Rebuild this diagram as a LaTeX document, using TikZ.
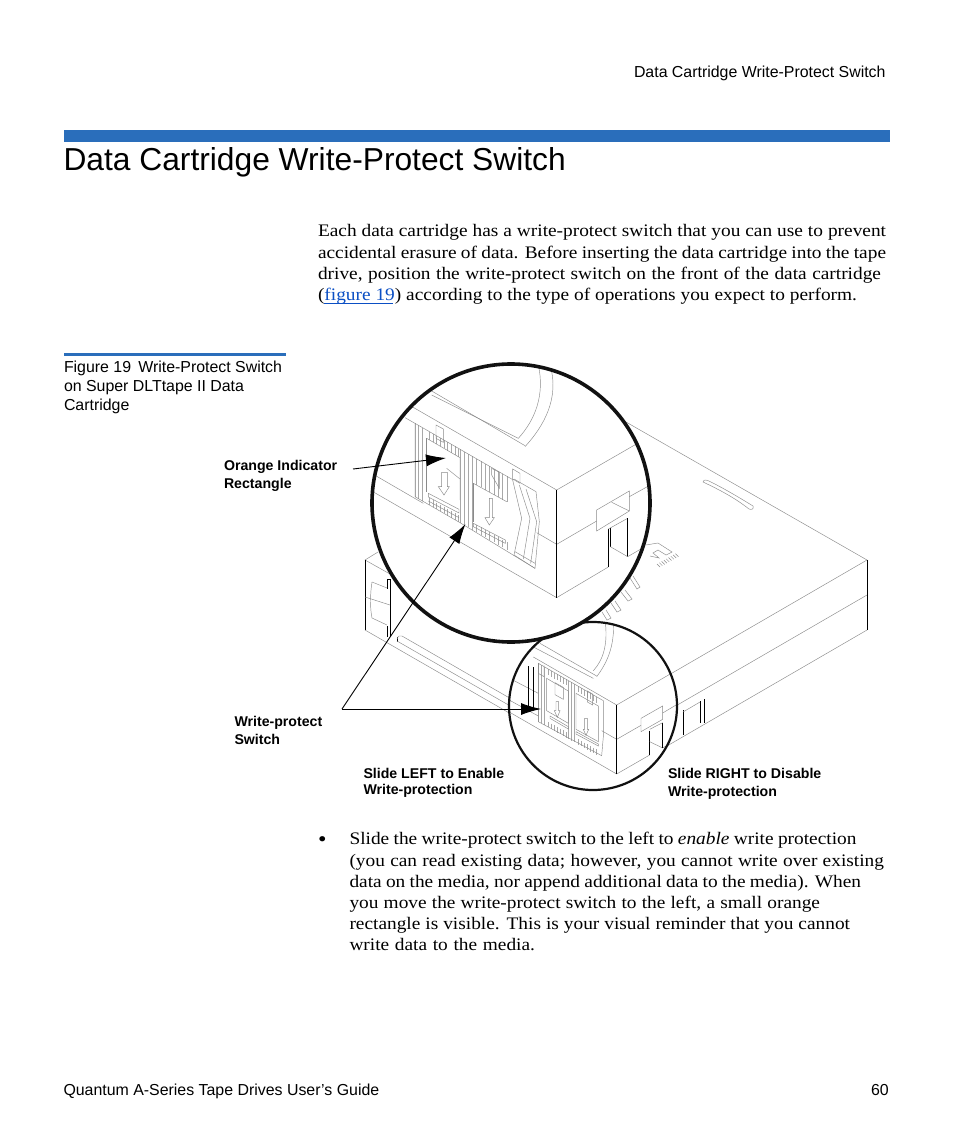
\documentclass[tikz,border=0pt]{standalone}
\usepackage{fontspec}
\usetikzlibrary{arrows.meta}
\setmainfont{Liberation Sans}
\newfontfamily\bodyfont[FakeStretch=1.1]{Liberation Serif}
\newcommand{\fitline}[2]{\makebox[#1pt][s]{#2}}
\definecolor{barblue}{HTML}{2A6EBB}
\definecolor{linkblue}{HTML}{0B4FC4}
\definecolor{cgray}{HTML}{8A8A8A}
\definecolor{hgray}{HTML}{A8A8A8}
\definecolor{ringblack}{HTML}{111111}
\tikzset{
  txt/.style={anchor=base west,inner sep=0pt,outer sep=0pt},
  bodytxt/.style={txt,font=\bodyfont\fontsize{17.6}{20}\selectfont},
  captxt/.style={txt,font=\fontsize{15.9}{18}\selectfont},
  lbl/.style={txt,font=\bfseries\fontsize{14.15}{16}\selectfont},
  gl/.style={draw=cgray,line width=.45pt},
  bl/.style={draw=black,line width=.8pt},
  blt/.style={draw=black,line width=1.2pt},
  hatch/.style={draw=hgray,line width=.4pt},
  pointer/.style={draw=black,line width=.9pt,-{Latex[length=20pt,width=12pt]}},
  bigmap/.style={shift={(360,355)},x=.33333pt,y=-.33333pt},
  smallmap/.style={shift={(500,610)},x=.33333pt,y=-.33333pt},
}
\begin{document}
\begin{tikzpicture}[x=1pt,y=-1pt]
\fill[white] (0,0) rectangle (954,1145);
\useasboundingbox (0,0) rectangle (954,1145);
% page furniture
\node[captxt] (head) at (634,78) {Data Cartridge Write-Protect Switch};
\fill[barblue] (64,130) rectangle (890,142);
\node[txt,font=\fontsize{31.75}{36}\selectfont] (title) at (63.5,170.5) {Data Cartridge Write-Protect Switch};
\node[bodytxt] (b1) at (318,236) {\fitline{568}{Each data cartridge has a write-protect switch that you can use to prevent}};
\node[bodytxt] (b2) at (318,258) {\fitline{568}{accidental erasure of data. Before inserting the data cartridge into the tape}};
\node[bodytxt] (b3) at (318,279) {\fitline{563}{drive, position the write-protect switch on the front of the data cartridge}};
\node[bodytxt] (b4) at (318,300) {\fitline{539}{(\textcolor{linkblue}{figure 19}) according to the type of operations you expect to perform.}};
\draw[linkblue,line width=.7pt] (324,303) -- (393,303);
\fill[barblue] (64,353) rectangle (286,356);
\node[captxt] (c1) at (64,372) {Figure 19\hspace{.45em}Write-Protect Switch};
\node[captxt] (c2) at (64,391) {on Super DLTtape II Data};
\node[captxt] (c3) at (64,410) {Cartridge};
% cartridge
\draw[gl] (626,422) -- (867,560);
\draw[gl] (867,560) -- (617,705);
\draw[gl] (867,595) -- (617,740);
\draw[gl] (867,630) -- (617,775);
\draw[bl] (867,560) -- (867,630);
\draw[gl] (703,482) .. controls (704,479) and (706,480) .. (709,481) .. controls (725,489) and (740,498) .. (753,506) .. controls (754,509) and (752,510) .. (749,509) .. controls (735,498) and (720,490) .. (703,482) -- cycle;
\draw[gl] (646,545) -- (658,543) -- (672,552) -- (666,555) -- (658,550) -- (653,553) -- (659,558) -- (650,556);
\foreach \i in {0,...,8}{\draw[gl] ({657+\i*2.3},{564-\i*1.3}) -- ({660+\i*2.3},{567-\i*1.3});}
\draw[gl] (630,578) -- (637,589) -- (640,587) -- (633,576);
\draw[gl] (621,592) -- (628,601) -- (632,599) -- (625,590);
\draw[gl] (611,603) -- (617,612) -- (621,610) -- (615,601);
\draw[gl] (602,612) -- (607,620) -- (611,618) -- (606,610);
% left end
\draw[gl] (365,560) -- (378,552);
\draw[gl] (365,560) -- (390,574);
\draw[bl] (365,560) -- (365,630);
\draw[gl] (365,630) -- (617,775);
\draw[bl] (390,579) -- (390,637);
\draw[bl] (387,579) -- (387,589);
\draw[bl] (387,626) -- (387,637);
\draw[bl] (387,579) -- (390,579);
\draw[bl] (397,637) -- (397,642);
\draw[gl] (372,582) -- (387,588);
\draw[gl] (372,582) .. controls (370,595) and (370,608) .. (372,618) -- (387,625);
\draw[gl] (365,597) -- (390,605);
\draw[gl] (397,641) -- (512,707);
\draw[gl] (397,639) .. controls (398,636) and (400,635) .. (402,636) -- (513,700);
% right notch
\draw[bl] (683,710) -- (683,735);
\draw[bl] (700,701) -- (700,723);
\draw[bl] (704,699) -- (704,723);
\draw[gl] (683,712) -- (700,702);
% small circle
\fill[white] (593,706) circle (84);
\begin{scope}
\clip (593,706) circle (84);
\begin{scope}[smallmap]
\draw[gl] (350,285) -- (100,141);
\draw[gl] (120,100) -- (290,198);
\draw[gl] (60,90) -- (280,205);
\draw[gl] (290,200) .. controls (320,160) and (345,110) .. (340,30);
\draw[gl] (280,182) .. controls (310,150) and (325,100) .. (315,30);
\draw[gl] (350,285) -- (540,175);
\draw[gl] (350,388) -- (423,346);
\draw[gl] (488,309) -- (540,278);
\draw[gl] (350,492) -- (449,435);
\draw[gl] (488,414) -- (540,382);
\draw[gl] (350,388) -- (305,362);
\draw[gl] (115,250) -- (0,190);
\draw[gl] (350,492) -- (0,290);
\draw[gl] (115,318) -- (0,255);
\draw[bl] (350,285) -- (350,492);
\draw[blt] (85,168) -- (85,296);
\draw[bl] (100,172) -- (100,296);
\foreach \x in {115,124,133,205,214,223}{\draw[hatch] (\x,{160+.577*(\x-115)}) -- (\x,{335+.577*(\x-115)});}
\foreach \x in {145,154,...,200,235,244,...,295}{
  \draw[hatch] (\x,{160+.577*(\x-115)}) -- (\x,{178+.577*(\x-115)});
  \draw[hatch] (\x,{318+.577*(\x-115)}) -- (\x,{335+.577*(\x-115)});
}
\draw[gl] (115,160) -- (310,272) -- (310,380) -- (305,437) -- (115,335) -- cycle;
\draw[gl] (140,205) -- (205,243) -- (205,340) -- (140,302) -- cycle;
\draw[gl] (228,250) -- (295,288) -- (295,395) -- (228,358) -- cycle;
\draw[gl] (165,218) -- (190,232) -- (190,268) -- (165,254) -- cycle;
\draw[gl] (150,318) -- (205,350) -- (205,357) -- (150,325) -- cycle;
\draw[gl] (228,365) -- (295,402) -- (295,408) -- (228,372) -- cycle;
\draw[gl] (168,275) -- (176,275) -- (176,302) -- (180,302) -- (172,322) -- (163,302) -- (168,302) -- cycle;
\draw[gl] (254,325) -- (262,325) -- (262,358) -- (266,358) -- (258,376) -- (250,358) -- (254,358) -- cycle;
\draw[gl] (262,243) -- (278,252) -- (278,285) -- (262,276) -- cycle;
\draw[gl] (115,160) -- (115,190) -- (132,200) -- (132,165);
\draw[gl] (423,325) -- (488,288) -- (488,328) -- (423,365) -- cycle;
\draw[blt] (449,362) -- (449,435);
\draw[gl] (449,395) -- (488,414);
\draw[bl] (488,340) -- (488,414);
\draw[gl] (449,358) -- (488,338);
\end{scope}
\end{scope}
\draw[ringblack,line width=2.2pt] (593,706) circle (84);
% big circle
\fill[white] (511,503) circle (139);
\begin{scope}
\clip (511,503) circle (139);
\begin{scope}[bigmap]
\draw[gl] (590,405) -- (130,140);
\draw[gl] (210,105) -- (495,272);
\draw[gl] (215,120) -- (475,250);
\draw[gl] (475,250) .. controls (525,195) and (555,120) .. (535,30);
\draw[gl] (495,275) .. controls (550,215) and (600,130) .. (570,30);
\draw[gl] (590,405) -- (850,255);
\draw[gl] (590,568) -- (710,498);
\draw[gl] (808,425) -- (880,385);
\draw[gl] (590,728) -- (745,636);
\draw[gl] (590,568) -- (530,533);
\draw[gl] (190,445) -- (40,358);
\draw[gl] (590,728) -- (30,405);
\draw[bl] (590,405) -- (590,728);
\draw[gl] (710,465) -- (808,408) -- (808,468) -- (710,528) -- cycle;
\draw[gl] (755,442) -- (808,468);
\draw[bl] (745,522) -- (745,636);
\draw[bl] (751,518) -- (751,575);
\draw[gl] (745,522) -- (803,490);
\draw[bl] (803,490) -- (803,605);
\draw[gl] (751,575) -- (803,605) -- (860,572);
% hatch
\foreach \x in {165,176,187,300,312,324,336}{\draw[hatch] (\x,{205+.577*(\x-165)}) -- (\x,{425+.577*(\x-165)});}
\foreach \x in {208,219,...,297}{
  \draw[hatch] (\x,{205+.577*(\x-165)}) -- (\x,{230+.577*(\x-165)});
  \draw[hatch] (\x,{405+.577*(\x-165)}) -- (\x,{425+.577*(\x-165)});
}
\foreach \x in {350,363,...,452}{
  \draw[hatch] (\x,{205+.577*(\x-165)}) -- (\x,{283+.577*(\x-165)});
  \draw[hatch] (\x,{403+.577*(\x-165)}) -- (\x,{425+.577*(\x-165)});
}
\draw[gl] (135,188) -- (165,205) -- (460,375);
\draw[gl] (165,205) -- (165,425) -- (300,503) -- (525,640);
\draw[gl] (200,250) -- (300,308) -- (300,435);
\draw[gl] (200,250) -- (200,410);
\draw[gl] (340,385) -- (440,440);
\draw[gl] (340,385) -- (340,500);
\draw[gl] (260,340) -- (300,372);
\draw[gl] (205,415) -- (297,463) -- (297,474) -- (205,426) -- cycle;
\draw[gl] (205,438) -- (297,488);
\draw[gl] (340,505) -- (436,555) -- (436,565) -- (340,515) -- cycle;
\draw[gl] (245,352) -- (262,352) -- (262,395) -- (268,395) -- (252,420) -- (235,395) -- (245,395) -- cycle;
\draw[gl] (388,430) -- (397,430) -- (397,488) -- (403,488) -- (388,510) -- (375,488) -- (388,488) -- cycle;
\draw[gl] (228,210) -- (250,222) -- (250,262) -- (228,250) -- cycle;
\draw[gl] (395,340) -- (418,352) -- (418,400) -- (395,360) -- cycle;
\draw[gl] (458,342) -- (480,355) -- (480,385) -- (458,372) -- cycle;
% chevron end
\draw[gl] (458,375) -- (485,490) -- (462,600);
\draw[gl] (478,390) -- (510,490) -- (490,612);
\draw[gl] (498,402) -- (530,500) -- (512,625);
\draw[gl] (528,410) -- (538,500) -- (525,640);
\draw[gl] (462,372) -- (528,410);
\draw[gl] (465,590) -- (525,625);
\draw[gl] (462,600) -- (525,640);
\end{scope}
\end{scope}
\draw[ringblack,line width=3.6pt] (511,503) circle (139);
% labels
\node[lbl] (orange1) at (224,470.5) {Orange Indicator};
\node[lbl] (orange2) at (224,488) {Rectangle};
\node[lbl] (wp1) at (234.5,726) {Write-protect};
\node[lbl] (wp2) at (234.5,744) {Switch};
\node[lbl] (left1) at (363.5,778) {Slide LEFT to Enable};
\node[lbl] (left2) at (363.5,794) {Write-protection};
\node[lbl] (right1) at (668,778) {Slide RIGHT to Disable};
\node[lbl] (right2) at (668,796) {Write-protection};
% pointers
\coordinate (orangefrom) at (353,469);
\coordinate (orangetip) at (446,458);
\coordinate (wpjoin) at (342,709);
\coordinate (wptipa) at (465.5,524);
\coordinate (wptipb) at (541,709);
\draw[pointer] (orangefrom) -- (orangetip);
\draw[pointer] (wpjoin) -- (wptipa);
\draw[pointer] (wpjoin) -- (wptipb);
% lower text
\node[bodytxt,font=\bodyfont\fontsize{22}{22}\selectfont] (bullet) at (318,846) {•};
\node[bodytxt] (d1) at (349.5,844) {\fitline{507}{Slide the write-protect switch to the left to \textit{enable} write protection}};
\node[bodytxt] (d2) at (349.5,866) {\fitline{534.5}{(you can read existing data; however, you cannot write over existing}};
\node[bodytxt] (d3) at (349.5,887) {\fitline{511.5}{data on the media, nor append additional data to the media). When}};
\node[bodytxt] (d4) at (349.5,908) {\fitline{470.5}{you move the write-protect switch to the left, a small orange}};
\node[bodytxt] (d5) at (349.5,929) {\fitline{500.5}{rectangle is visible. This is your visual reminder that you cannot}};
\node[bodytxt] (d6) at (349.5,950) {\fitline{185.5}{write data to the media.}};
\node[captxt] (foot) at (63.5,1095) {Quantum A-Series Tape Drives User’s Guide};
\node[captxt] (page) at (871,1095) {60};
\end{tikzpicture}
\end{document}
